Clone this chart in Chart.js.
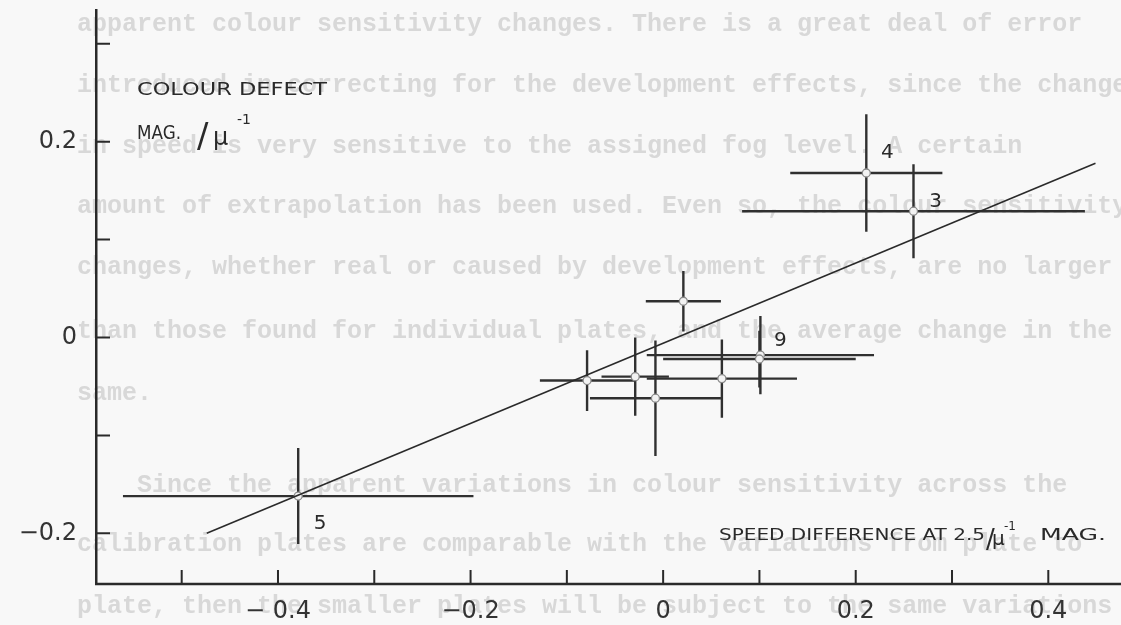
<!DOCTYPE html>
<html>
<head>
<meta charset="utf-8">
<script src="https://cdn.jsdelivr.net/npm/chart.js@4.4.1/dist/chart.umd.min.js"></script>
<style>
    html, body { margin: 0; padding: 0; background: #f8f8f8; }
    canvas { display: block; }
</style>
</head>
<body>
<canvas id="chart" width="1121" height="625"></canvas>
<script>
// plate numbers (only some are written on the figure)
const plateLabels = ['5', '', '', '', '', '', '9', '', '4', '3'];
const speedDiff = [-0.379, -0.079, -0.029, -0.008, 0.021, 0.061, 0.101, 0.100, 0.211, 0.260];
const speedErr = [0.182, 0.049, 0.035, 0.068, 0.039, 0.078, 0.118, 0.100, 0.079, 0.178];
const colourDefect = [-0.162, -0.044, -0.040, -0.062, 0.037, -0.042, -0.018, -0.022, 0.168, 0.129];
const defectErr = [0.049, 0.031, 0.040, 0.059, 0.031, 0.040, 0.040, 0.029, 0.060, 0.048];

// fitted line end points
const fitX = [-0.474, 0.449];
const fitY = [-0.200, 0.178];

const xTickValues = [-0.5, -0.4, -0.3, -0.2, -0.1, 0, 0.1, 0.2, 0.3, 0.4];
const xTickLabels = {'-4': '− 0.4', '-2': '−0.2', '0': '0', '2': '0.2', '4': '0.4'};
const yTickValues = [-0.2, -0.1, 0, 0.1, 0.2, 0.3];
const yTickLabels = {'-2': '−0.2', '0': '0', '2': '0.2'};

// typescript of the page behind, showing through the scan
const pageText = [
    'apparent colour sensitivity changes. There is a great deal of error',
    'introduced in correcting for the development effects, since the change',
    'in speed is very sensitive to the assigned fog level. A certain',
    'amount of extrapolation has been used. Even so, the colour sensitivity',
    'changes, whether real or caused by development effects, are no larger',
    'than those found for individual plates, and the average change in the',
    'same.',
    '    Since the apparent variations in colour sensitivity across the',
    'calibration plates are comparable with the variations from plate to',
    'plate, then the smaller plates will be subject to the same variations'
];
const pageRows = [31, 92, 153, 213, 274, 338, 400, 492, 551, 613];

const INK = '#2a2a2a';
const FONT = '"DejaVu Sans"';

// where the plate numbers sit relative to their point (px)
const labelOffset = {'5': [22, 28], '9': [20, -14], '4': [21, -20], '3': [22, -9]};

function fitText(ctx, text, x, y, width, size) {
    ctx.font = `${size}px ${FONT}`;
    const w = ctx.measureText(text).width;
    ctx.save();
    ctx.translate(x, y);
    ctx.scale(width / w, 1);
    ctx.fillText(text, 0, 0);
    ctx.restore();
}

const bleedThrough = {
    id: 'bleedThrough',
    beforeDraw(chart) {
        const ctx = chart.ctx;
        ctx.save();
        ctx.filter = 'blur(0.6px)';
        ctx.fillStyle = '#d8d8d8';
        ctx.font = 'bold 25px "Liberation Mono"';
        ctx.textBaseline = 'alphabetic';
        pageText.forEach((line, i) => ctx.fillText(line, 77, pageRows[i]));
        ctx.restore();
    }
};

const errorBars = {
    id: 'errorBars',
    beforeDatasetsDraw(chart) {
        const {ctx, scales: {x, y}} = chart;
        ctx.save();
        ctx.strokeStyle = '#303030';
        ctx.lineWidth = 2.4;
        speedDiff.forEach((v, i) => {
            const px = x.getPixelForValue(v);
            const py = y.getPixelForValue(colourDefect[i]);
            ctx.beginPath();
            ctx.moveTo(x.getPixelForValue(v - speedErr[i]), py);
            ctx.lineTo(x.getPixelForValue(v + speedErr[i]), py);
            ctx.moveTo(px, y.getPixelForValue(colourDefect[i] + defectErr[i]));
            ctx.lineTo(px, y.getPixelForValue(colourDefect[i] - defectErr[i]));
            ctx.stroke();
        });
        ctx.restore();
    }
};

const decorations = {
    id: 'decorations',
    afterDraw(chart) {
        const {ctx, chartArea, scales: {x, y}} = chart;
        ctx.save();
        ctx.strokeStyle = INK;
        // x axis, run on to the edge of the sheet
        ctx.lineWidth = 2.5;
        ctx.beginPath();
        ctx.moveTo(chartArea.left - 1, chartArea.bottom);
        ctx.lineTo(chart.width, chartArea.bottom);
        ctx.stroke();

        // inward tick marks
        ctx.lineWidth = 2;
        ctx.beginPath();
        xTickValues.forEach(v => {
            const px = x.getPixelForValue(v);
            ctx.moveTo(px, chartArea.bottom);
            ctx.lineTo(px, chartArea.bottom - 14);
        });
        yTickValues.forEach(v => {
            const py = y.getPixelForValue(v);
            ctx.moveTo(chartArea.left, py);
            ctx.lineTo(chartArea.left + 14, py);
        });
        ctx.stroke();

        // plate numbers
        ctx.fillStyle = INK;
        ctx.textAlign = 'center';
        ctx.textBaseline = 'middle';
        ctx.font = `20px ${FONT}`;
        plateLabels.forEach((lab, i) => {
            if (!lab) return;
            const [dx, dy] = labelOffset[lab];
            ctx.fillText(lab, x.getPixelForValue(speedDiff[i]) + dx, y.getPixelForValue(colourDefect[i]) + dy);
        });

        // axis titles
        ctx.textAlign = 'left';
        ctx.textBaseline = 'alphabetic';
        fitText(ctx, 'COLOUR DEFECT', 137, 95, 190, 18);
        fitText(ctx, 'MAG.', 137, 139, 44, 19);
        ctx.font = `34px ${FONT}`;
        ctx.fillText('/', 197, 147);
        ctx.font = `24px ${FONT}`;
        ctx.fillText('μ', 213, 145);
        ctx.font = `14px ${FONT}`;
        ctx.fillText('-1', 237, 124);

        fitText(ctx, 'SPEED DIFFERENCE AT 2.5', 719, 540, 266, 16);
        ctx.font = `26px ${FONT}`;
        ctx.fillText('/', 986, 548);
        ctx.font = `20px ${FONT}`;
        ctx.fillText('μ', 992, 545);
        ctx.font = `12px ${FONT}`;
        ctx.fillText('-1', 1004, 530);
        fitText(ctx, 'MAG.', 1040, 540, 66, 16);
        ctx.restore();
    }
};

new Chart(document.getElementById('chart'), {
    type: 'scatter',
    data: {
        datasets: [{
            type: 'line',
            data: fitX.map((v, i) => ({x: v, y: fitY[i]})),
            borderColor: INK,
            borderWidth: 1.6,
            pointRadius: 0,
            fill: false
        }, {
            data: speedDiff.map((v, i) => ({x: v, y: colourDefect[i]})),
            pointRadius: 4,
            pointBackgroundColor: '#f2f2f2',
            pointBorderColor: '#8a8a8a',
            pointBorderWidth: 1.3
        }]
    },
    options: {
        responsive: false,
        animation: false,
        layout: {
            padding: {top: 10, right: 0, bottom: 0, left: 0}
        },
        plugins: {
            legend: {display: false},
            tooltip: {enabled: false}
        },
        scales: {
            x: {
                type: 'linear',
                min: -0.589,
                max: 0.470,
                afterBuildTicks: s => { s.ticks = xTickValues.map(v => ({value: v})); },
                afterFit: s => { s.height = 41; s.paddingLeft = 0; s.paddingRight = 0; },
                grid: {display: false, drawTicks: false},
                border: {display: false},
                ticks: {
                    padding: 13,
                    maxRotation: 0,
                    autoSkip: false,
                    color: '#333',
                    font: {family: 'DejaVu Sans', size: 24},
                    callback: v => xTickLabels[Math.round(v * 10)] || ''
                }
            },
            y: {
                type: 'linear',
                min: -0.2518,
                max: 0.3345,
                afterBuildTicks: s => { s.ticks = yTickValues.map(v => ({value: v})); },
                afterFit: s => { s.width = 96; s.paddingTop = 0; s.paddingBottom = 0; },
                grid: {display: false, drawTicks: false},
                border: {display: true, color: INK, width: 2.5},
                ticks: {
                    padding: 19,
                    autoSkip: false,
                    color: '#333',
                    font: {family: 'DejaVu Sans', size: 24},
                    callback: v => yTickLabels[Math.round(v * 10)] || ''
                }
            }
        }
    },
    plugins: [bleedThrough, errorBars, decorations]
});
</script>
</body>
</html>
